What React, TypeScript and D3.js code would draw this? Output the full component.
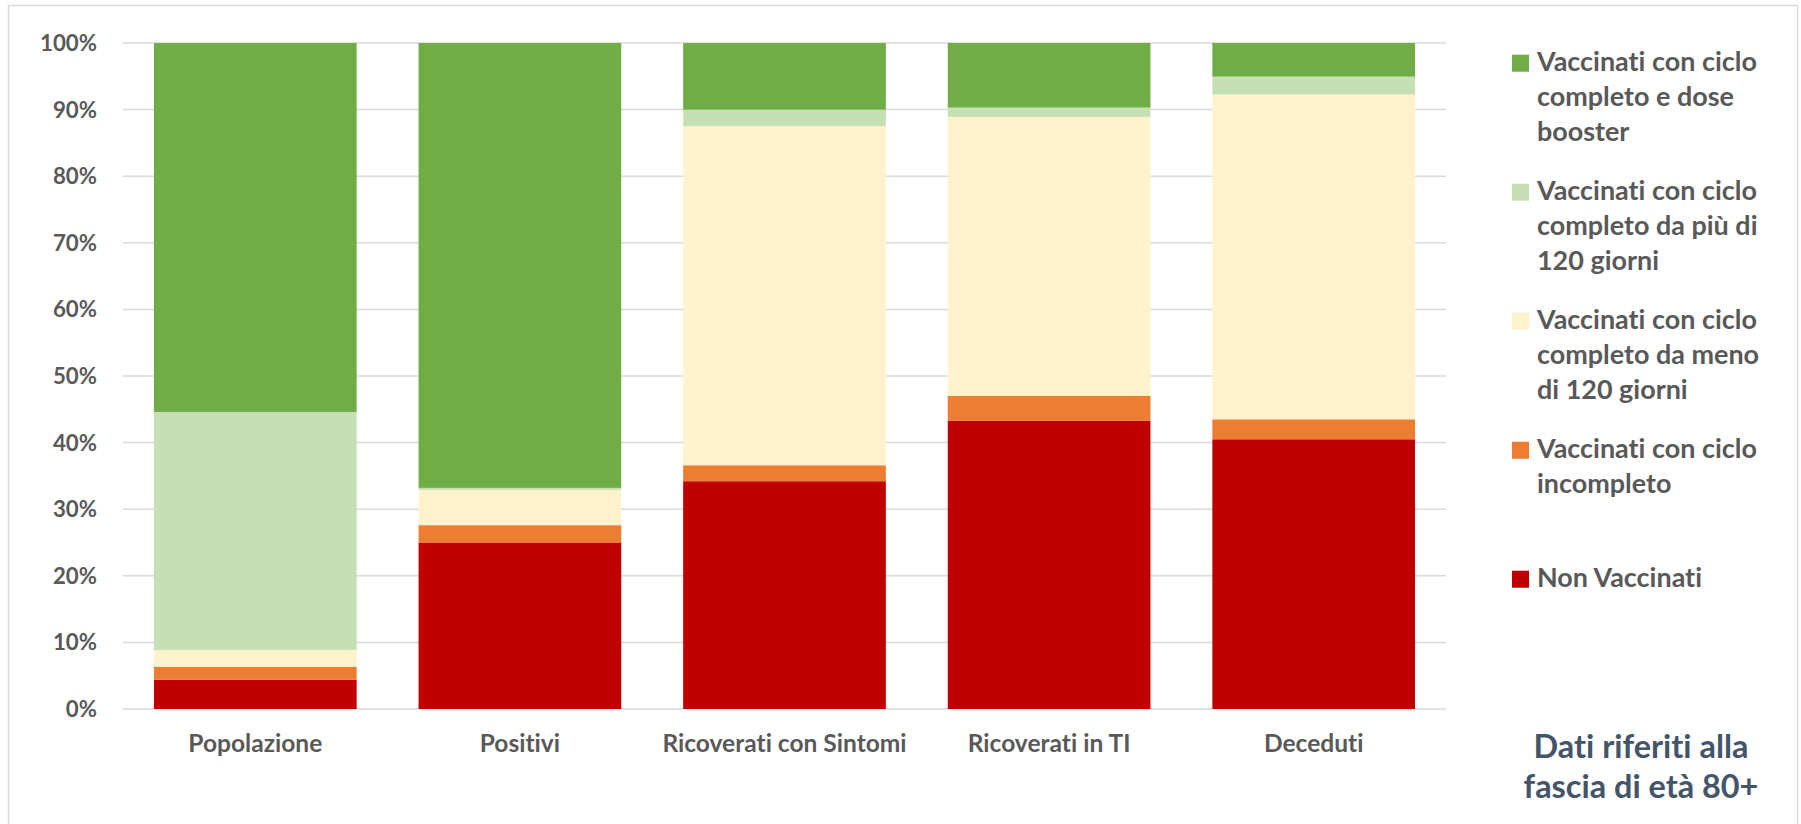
import React, { useLayoutEffect, useRef, useState } from "react";
import * as d3 from "d3";

const categories = ["Popolazione", "Positivi", "Ricoverati con Sintomi", "Ricoverati in TI", "Deceduti"];
const nonVaccinati = [4.4, 25.0, 34.2, 43.3, 40.5];
const incompleto = [1.95, 2.6, 2.4, 3.7, 3.0];
const menoDi120 = [2.5, 5.3, 50.9, 41.9, 48.75];
const piuDi120 = [35.75, 0.3, 2.5, 1.4, 2.7];
const booster = [55.4, 66.8, 10.0, 9.7, 5.05];

const seriesKeys = ["nonVaccinati", "incompleto", "menoDi120", "piuDi120", "booster"];
const seriesValues: Record<string, number[]> = { nonVaccinati, incompleto, menoDi120, piuDi120, booster };
const seriesColors: Record<string, string> = {
  nonVaccinati: "#C00000",
  incompleto: "#ED7D31",
  menoDi120: "#FFF2CC",
  piuDi120: "#C5E0B4",
  booster: "#70AD47",
};
const legendLines: Record<string, string[]> = {
  booster: ["Vaccinati con ciclo", "completo e dose", "booster"],
  piuDi120: ["Vaccinati con ciclo", "completo da più di", "120 giorni"],
  menoDi120: ["Vaccinati con ciclo", "completo da meno", "di 120 giorni"],
  incompleto: ["Vaccinati con ciclo", "incompleto"],
  nonVaccinati: ["Non Vaccinati"],
};
const legendOrder = ["booster", "piuDi120", "menoDi120", "incompleto", "nonVaccinati"];
const yTicks = [0, 10, 20, 30, 40, 50, 60, 70, 80, 90, 100];
const noteLines = ["Dati riferiti alla", "fascia di età 80+"];

const W = 1801;
const H = 824;
const FONT = "Lato, 'Open Sans', sans-serif";

// reference widths (px) of sample strings, used to pick font sizes
const samples = [
  { key: "legend", text: "Vaccinati con ciclo", width: 220 },
  { key: "axis", text: "Popolazione", width: 134 },
  { key: "tick", text: "100%", width: 57 },
  { key: "note", text: "Dati riferiti alla", width: 215 },
];

export default function App() {
  const measureRef = useRef<SVGGElement>(null);
  const [sizes, setSizes] = useState<Record<string, number>>({ legend: 25, axis: 24, tick: 23, note: 29 });

  useLayoutEffect(() => {
    const g = measureRef.current;
    if (!g) return;
    const next: Record<string, number> = {};
    const texts = g.querySelectorAll("text");
    texts.forEach((t, i) => {
      const w = (t as SVGTextElement).getComputedTextLength();
      if (w > 0) next[samples[i].key] = (100 * samples[i].width) / w;
    });
    if (Object.keys(next).length === samples.length) setSizes(next);
  }, []);

  const x = d3.scaleBand<string>().domain(categories).range([123, 1446]).paddingInner(0.234).paddingOuter(0.117);
  const y = d3.scaleLinear().domain([0, 100]).range([709, 43]);

  const table = categories.map((c, i) => {
    const row: Record<string, any> = { category: c };
    seriesKeys.forEach((k) => (row[k] = seriesValues[k][i]));
    return row;
  });
  const stacked = d3.stack<Record<string, any>>().keys(seriesKeys)(table);

  return (
    <svg
      width={W}
      height={H}
      style={{ position: "absolute", left: 0, top: 0, background: "#fff", fontVariantLigatures: "none" }}
      fontFamily={FONT}
    >
      <g ref={measureRef} visibility="hidden">
        {samples.map((s) => (
          <text key={s.key} x={0} y={-200} fontSize={100} fontWeight={700}>
            {s.text}
          </text>
        ))}
      </g>
      <rect x={8.5} y={5.5} width={1789} height={840} fill="#fff" stroke="#d9d9d9" strokeWidth={1.5} />
      {yTicks.map((t) => (
        <g key={t}>
          <line x1={123} x2={1446} y1={y(t)} y2={y(t)} stroke="#d9d9d9" strokeWidth={1.5} />
          <text x={97} y={y(t)} dy="0.36em" textAnchor="end" fontSize={sizes.tick} fontWeight={700} fill="#595959">
            {t}%
          </text>
        </g>
      ))}
      {stacked.map((s) => (
        <g key={s.key} fill={seriesColors[s.key]}>
          {s.map((d, i) => (
            <rect
              key={i}
              x={x(categories[i])}
              width={x.bandwidth()}
              y={y(d[1])}
              height={Math.max(0, y(d[0]) - y(d[1]))}
            />
          ))}
        </g>
      ))}
      {categories.map((c) => (
        <text key={c} x={(x(c) as number) + x.bandwidth() / 2} y={752} textAnchor="middle" fontSize={sizes.axis} fontWeight={700} fill="#595959">
          {c}
        </text>
      ))}
      {legendOrder.map((k, i) => {
        const base = 70.7 + i * 129;
        return (
          <g key={k}>
            <rect x={1512} y={base - 16} width={17} height={17} fill={seriesColors[k]} />
            {legendLines[k].map((line, j) => (
              <text key={j} x={1537} y={base + j * 35} fontSize={sizes.legend} fontWeight={700} fill="#595959">
                {line}
              </text>
            ))}
          </g>
        );
      })}
      {noteLines.map((line, j) => (
        <text key={j} x={1641} y={758 + j * 40} textAnchor="middle" fontSize={sizes.note} fontWeight={700} fill="#44546A">
          {line}
        </text>
      ))}
    </svg>
  );
}
